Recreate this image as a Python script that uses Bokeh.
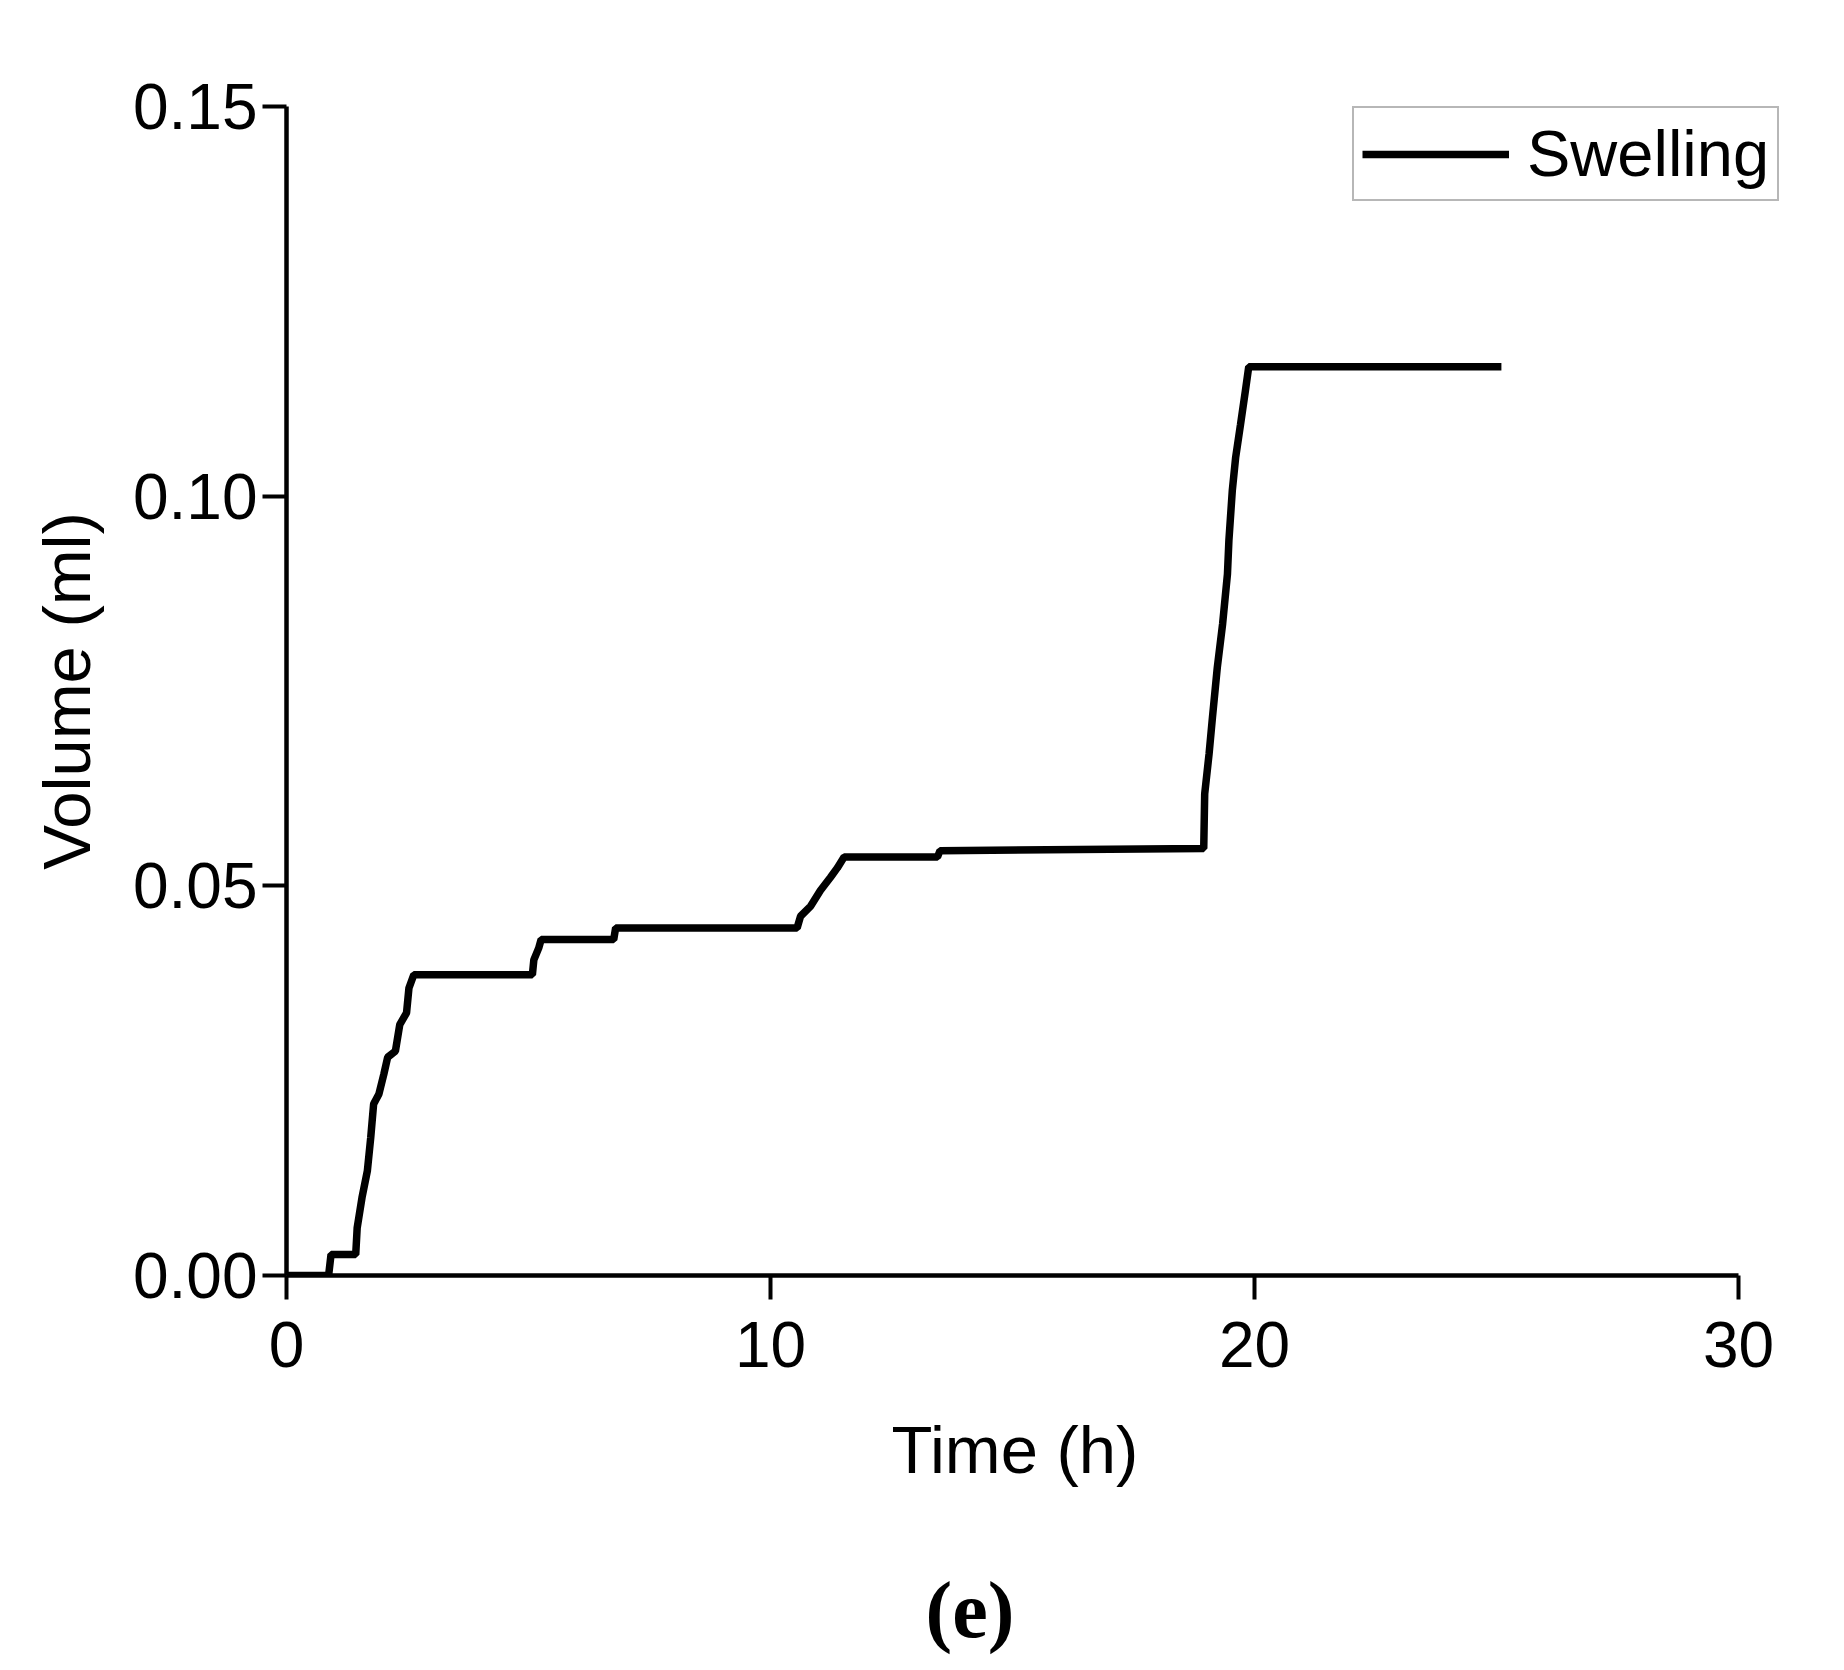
from bokeh.plotting import figure
from bokeh.models import Range1d, FixedTicker, PrintfTickFormatter, Legend, LegendItem, Title
from bokeh.embed import file_html
from bokeh.resources import INLINE

# ---- data ----
time_h = [0, 0.87, 0.92, 1.43, 1.46, 1.56, 1.67, 1.74, 1.80, 1.91, 2.01, 2.09, 2.25, 2.34,
          2.48, 2.53, 2.63, 5.08, 5.11, 5.21, 5.26, 6.76, 6.80, 10.55, 10.62, 10.83, 11.03,
          11.24, 11.38, 11.52, 13.45, 13.50, 18.95, 18.97, 19.06, 19.13, 19.23, 19.34, 19.44,
          19.47, 19.54, 19.61, 19.71, 19.81, 19.88, 25.1]
volume_ml = [0, 0, 0.0027, 0.0027, 0.0061, 0.0100, 0.0134, 0.0177, 0.0220, 0.0233, 0.0258,
             0.0280, 0.0288, 0.0322, 0.0337, 0.0369, 0.0386, 0.0386, 0.0405, 0.0420, 0.0431,
             0.0431, 0.0446, 0.0446, 0.0461, 0.0474, 0.0494, 0.0511, 0.0523, 0.0537, 0.0537,
             0.0545, 0.0548, 0.0618, 0.0669, 0.0716, 0.0780, 0.0836, 0.0900, 0.0943, 0.1007,
             0.1050, 0.1092, 0.1135, 0.1166, 0.1166]
x_ticks = [0, 10, 20, 30]
y_ticks = [0.0, 0.05, 0.10, 0.15]
series_name = "Swelling"
x_title = "Time (h)"
y_title = "Volume (ml)"
panel_tag = "(e)"

FONT = "Liberation Sans"

p = figure(width=1828, height=1660, output_backend="svg", toolbar_location=None,
           x_range=Range1d(0, 31.3), y_range=Range1d(0, 0.15),
           min_border_left=286, min_border_right=27, min_border_top=106, min_border_bottom=385)
p.outline_line_color = None
p.xgrid.visible = False
p.ygrid.visible = False
p.background_fill_color = "white"

r = p.line(time_h, volume_ml, line_color="black", line_width=7.5)

for ax in (p.xaxis[0], p.yaxis[0]):
    ax.axis_line_width = 4.5
    ax.axis_line_color = "black"
    ax.major_tick_line_width = 4
    ax.major_tick_line_color = "black"
    ax.major_tick_out = 24
    ax.major_tick_in = 0
    ax.minor_tick_out = 0
    ax.minor_tick_in = 0
    ax.major_label_text_font = FONT
    ax.major_label_text_font_size = "64px"
    ax.major_label_text_color = "black"
    ax.axis_label_text_font = FONT
    ax.axis_label_text_font_size = "67px"
    ax.axis_label_text_font_style = "normal"
    ax.axis_label_text_color = "black"

p.xaxis[0].ticker = FixedTicker(ticks=x_ticks)
p.xaxis[0].bounds = (0, 30)
p.yaxis[0].ticker = FixedTicker(ticks=y_ticks)
p.yaxis[0].formatter = PrintfTickFormatter(format="%.2f")
p.yaxis[0].axis_label = y_title
p.xaxis[0].major_label_standoff = 22
p.yaxis[0].major_label_standoff = 5
p.yaxis[0].axis_label_standoff = 26

# x-axis title as a Title so it can be centred on the 0..30 span
xt = Title(text=x_title, align="left", offset=605, standoff=0, vertical_align="top",
           text_font=FONT, text_font_style="normal", text_font_size="67px",
           text_color="black")
xt.padding = dict(left=0, right=0, top=42, bottom=0)
p.add_layout(xt, "below")

legend = Legend(items=[LegendItem(label=series_name, renderers=[r])],
                location=(1066, 1074), margin=0, padding=8, spacing=0,
                glyph_width=147, glyph_height=60, label_height=60, label_standoff=18,
                label_text_font=FONT, label_text_font_size="65px", label_text_color="black",
                border_line_color="#707070", border_line_width=2,
                background_fill_color="white", background_fill_alpha=1)
p.add_layout(legend)

tag = Title(text=panel_tag, align="left", offset=639, standoff=0, vertical_align="top",
            text_font="Liberation Serif", text_font_style="bold", text_font_size="80px",
            text_color="black")
tag.padding = dict(left=0, right=0, top=77, bottom=0)
p.add_layout(tag, "below")

open("out.html", "w").write(file_html(p, INLINE))
